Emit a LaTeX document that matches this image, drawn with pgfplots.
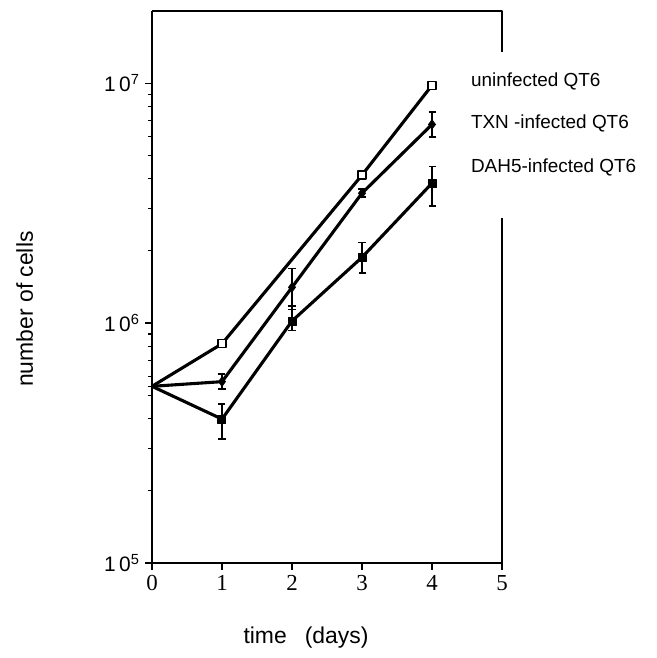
\documentclass[border=0pt]{standalone}
\usepackage{fontspec}
\setmainfont{Liberation Sans}
\newfontfamily\serifnum{Liberation Serif}
\usepackage{pgfplots}
\pgfplotsset{compat=1.18}

\pgfplotstableread{
x y ep em
0 5.45e5 0 0
1 8.2e5 0 0
3 4.14e6 0 0
4 9.8e6 0 0
}\uninf
\pgfplotstableread{
x y ep em
0 5.45e5 0 0
1 5.7e5 0.44e5 0.40e5
2 1.41e6 0.28e6 0.27e6
3 3.48e6 0.15e6 0.12e6
4 6.73e6 0.84e6 0.77e6
}\txn
\pgfplotstableread{
x y ep em
0 5.45e5 0 0
1 3.98e5 0.62e5 0.69e5
2 1.02e6 0.16e6 0.09e6
3 1.88e6 0.29e6 0.26e6
4 3.83e6 0.67e6 0.76e6
}\dah

\begin{document}
\begin{tikzpicture}
\begin{axis}[
  name=ax,
  scale only axis,
  width=350bp, height=552bp,
  xmin=0, xmax=5, ymin=1e5, ymax=2e7,
  ymode=log,
  axis x line*=bottom, axis y line*=left,
  axis line style={line width=1.6bp},
  tick align=outside,
  major tick length=7bp, minor tick length=4bp,
  tick style={line width=1.2bp, black},
  xtick={0,1,2,3,4,5},
  xticklabels={0,1,2,3,4,5},
  xticklabel style={font=\serifnum\fontsize{23}{23}\selectfont, yshift=-2bp},
  ytick={1e5,1e6,1e7},
  yticklabels={{1\,0\textsuperscript{5}},{1\,0\textsuperscript{6}},{1\,0\textsuperscript{7}}},
  yticklabel style={font=\fontsize{21}{21}\selectfont, xshift=-2bp},
  clip=false,
  line join=round,
]
\addplot[black, line width=3.1bp, mark=square*, mark indices={2,3,4},
  mark size=4bp, mark options={fill=white, line width=1.3bp}]
  table[x=x, y=y] {\uninf};
\addplot[black, line width=3.1bp, mark=diamond*, mark indices={2,3,4,5},
  mark size=4.5bp, mark options={fill=black, line width=1bp},
  error bars/.cd, y dir=both, y explicit,
  error bar style={line width=1.5bp}, error mark options={line width=1.5bp, mark size=3.5bp, rotate=90}]
  table[x=x, y=y, y error plus=ep, y error minus=em] {\txn};
\addplot[black, line width=3.1bp, mark=square*, mark indices={2,3,4,5},
  mark size=4bp, mark options={fill=black, line width=1bp},
  error bars/.cd, y dir=both, y explicit,
  error bar style={line width=1.5bp}, error mark options={line width=1.5bp, mark size=3.5bp, rotate=90}]
  table[x=x, y=y, y error plus=ep, y error minus=em] {\dah};
% top border and broken right border
\draw[line width=1.6bp] (rel axis cs:0,1) -- (rel axis cs:1,1) -- (rel axis cs:1,0.926);
\draw[line width=1.6bp] (rel axis cs:1,0.625) -- (rel axis cs:1,0);
% series names
\node[anchor=base west, font=\fontsize{19}{19}\selectfont, inner sep=0pt] at (rel axis cs:0.911,0.864) {uninfected QT6};
\node[anchor=base west, font=\fontsize{19}{19}\selectfont, inner sep=0pt] at (rel axis cs:0.911,0.788) {TXN -infected QT6};
\node[anchor=base west, font=\fontsize{19}{19}\selectfont, inner sep=0pt] at (rel axis cs:0.911,0.7065) {DAH5-infected QT6};
% axis titles
\node[anchor=base, font=\fontsize{23}{23}\selectfont, inner sep=0pt] at ([yshift=-81bp]rel axis cs:0.44,0) {time\hspace{18bp}(days)};
\node[anchor=base, rotate=90, font=\fontsize{23}{23}\selectfont, inner sep=0pt] at ([xshift=-119bp]rel axis cs:0,0.46) {number of cells};
\end{axis}
\path[use as bounding box] ([xshift=-152bp,yshift=-95bp]ax.south west) rectangle ([xshift=155bp,yshift=11bp]ax.north east);
\end{tikzpicture}
\end{document}
